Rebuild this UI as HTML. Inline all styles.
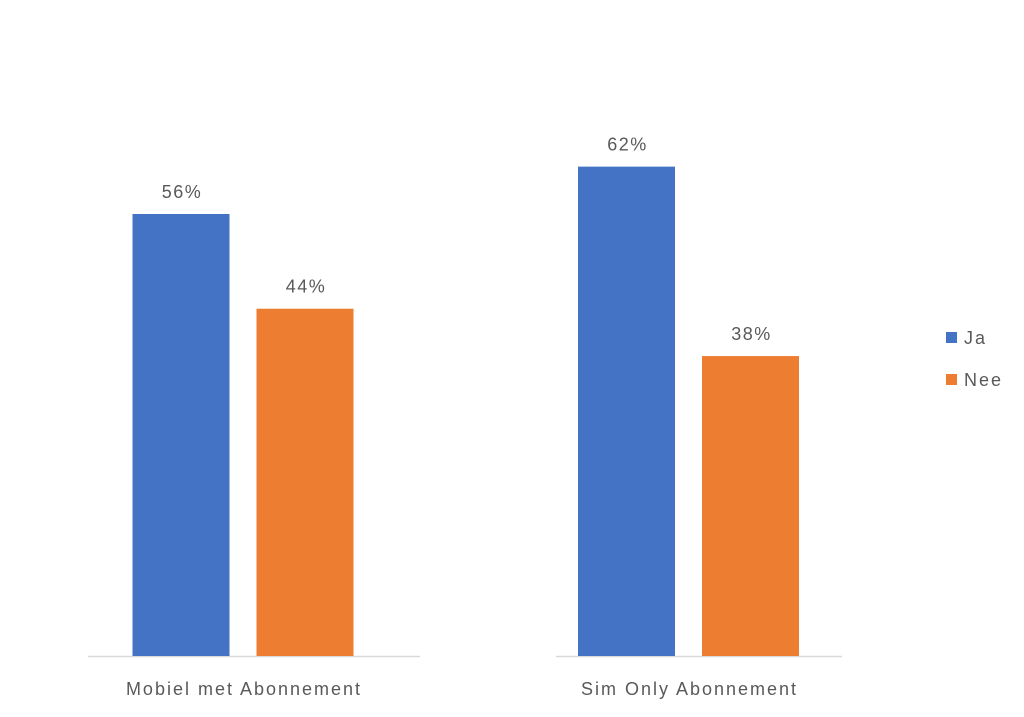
<!DOCTYPE html>
<html><head><meta charset="utf-8"><style>
body{margin:0;background:#fff;width:1024px;height:712px;overflow:hidden;font-family:"Liberation Sans",sans-serif}
text{letter-spacing:2px}
</style></head><body>
<svg width="1024" height="712" xmlns="http://www.w3.org/2000/svg">
<g id="axis">
<line x1="88" y1="656.5" x2="420" y2="656.5" stroke="#d9d9d9" stroke-width="1.5"/>
<line x1="556" y1="656.5" x2="842" y2="656.5" stroke="#d9d9d9" stroke-width="1.5"/>
</g>
<g id="bars"></g>
<g>
<rect x="946" y="332" width="11" height="11" fill="#4472C4"/>
<text x="964" y="344" font-size="18" fill="#595959">Ja</text>
<rect x="946" y="374" width="11" height="11" fill="#ED7D31"/>
<text x="964" y="386" font-size="18" fill="#595959">Nee</text>
</g>
</svg>
<script>
const categories=["Mobiel met Abonnement","Sim Only Abonnement"];
const jaValues=[56,62];
const neeValues=[44,38];
const series=[{name:"ja",vals:jaValues,color:"#4472C4"},{name:"nee",vals:neeValues,color:"#ED7D31"}];
const baseY=656, pxPerPct=7.893;
const catX=[243,688.5];
const barW=97, gap=27;
const y=v=>baseY-v*pxPerPct;
const ns="http://www.w3.org/2000/svg";
const g=document.getElementById('bars');
categories.forEach((c,i)=>{
  series.forEach((s,j)=>{
    const x=catX[i]-barW-gap/2+j*(barW+gap);
    const r=document.createElementNS(ns,'rect');
    r.setAttribute('x',x);r.setAttribute('y',y(s.vals[i]));
    r.setAttribute('width',barW);r.setAttribute('height',baseY-y(s.vals[i]));
    r.setAttribute('fill',s.color);
    
    
    g.appendChild(r);
    const t=document.createElementNS(ns,'text');
    t.setAttribute('x',x+barW/2+1);t.setAttribute('y',y(s.vals[i])-16);
    t.setAttribute('text-anchor','middle');t.setAttribute('font-size','18');t.setAttribute('fill','#595959');
    t.setAttribute('style','letter-spacing:1.5px');
    t.textContent=s.vals[i]+'%';
    
    
    g.appendChild(t);
  });
  const l=document.createElementNS(ns,'text');
  l.setAttribute('x',catX[i]+1);l.setAttribute('y',695);
  l.setAttribute('text-anchor','middle');l.setAttribute('font-size','18');l.setAttribute('fill','#595959');
  l.textContent=c;
  
  
  g.appendChild(l);
});
</script>
</body></html>
